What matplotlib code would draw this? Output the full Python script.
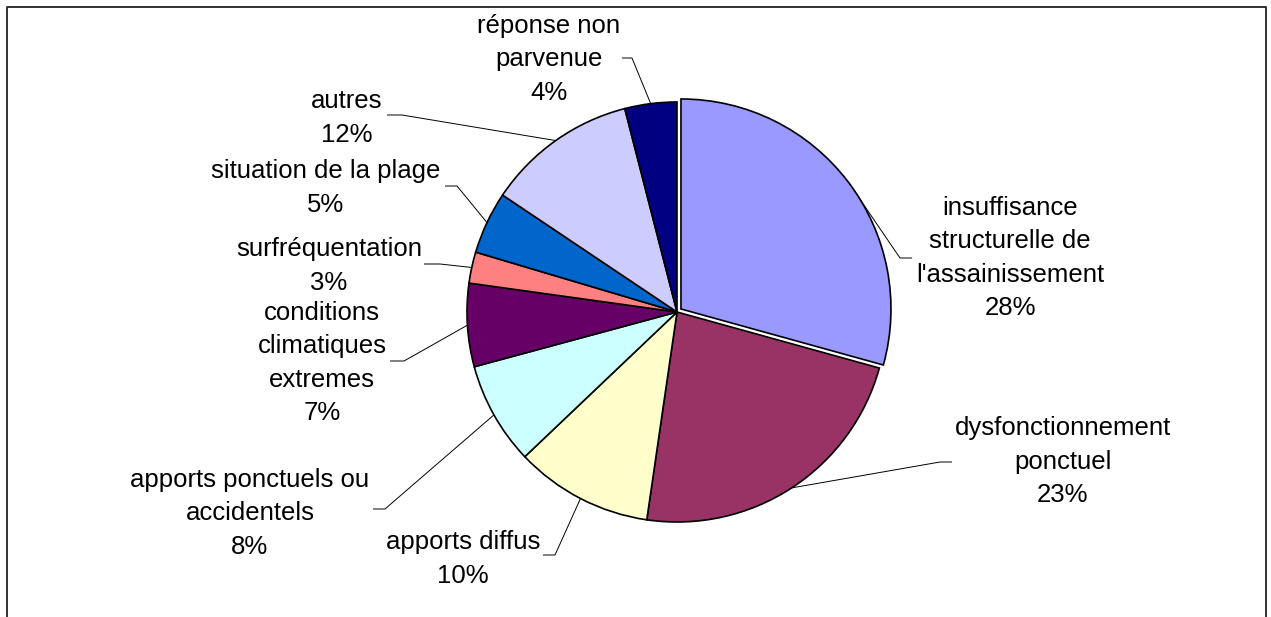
import numpy as np
import matplotlib
matplotlib.use("Agg")
import matplotlib.pyplot as plt

# shares (clockwise from 12 o'clock)
categories = ["insuffisance\nstructurelle de\nl'assainissement",
              "dysfonctionnement\nponctuel",
              "apports diffus",
              "apports ponctuels ou\naccidentels",
              "conditions\nclimatiques\nextremes",
              "surfréquentation",
              "situation de la plage",
              "autres",
              "réponse non\nparvenue"]
shares = [29.3, 23.0, 10.6, 7.9, 6.4, 2.4, 4.8, 11.6, 4.0]
pct_labels = ["28%", "23%", "10%", "8%", "7%", "3%", "5%", "12%", "4%"]
colors = ["#9999FF", "#993366", "#FFFFCC", "#CCFFFF", "#660066",
          "#FF8080", "#0066CC", "#CCCCFF", "#000080"]
# offset of the pulled-out slice, in pixels (pie explode is in data units)
explode = [5, 0, 0, 0, 0, 0, 0, 0, 0]

W, H = 1271, 617

# label layout in image pixels (x, y from top): text centre, line end, elbow
label_pos = [(1010, 258), (1063, 462), (463, 559), (250, 513), (322, 363),
             (329, 266), (326, 188), (347, 118), (549, 59)]
line_end = [(912, 258), (952, 462), (543, 555), (373, 509), (390, 361),
            (424, 264), (445, 186), (387, 115), (622, 58)]
elbow = [(900, 258), (940, 462), (555, 555), (385, 509), (404, 361),
         (440, 264), (457, 186), (402, 115), (632, 58)]


def px(p):
    return p[0], H - p[1]


plt.rcParams['font.family'] = ['Liberation Sans', 'DejaVu Sans']

fig = plt.figure(figsize=(W / 100, H / 100), dpi=100)
ax = fig.add_axes([0, 0, 1, 1])

centre = px((677, 312))
wedges, _ = ax.pie(shares, colors=colors, explode=explode, startangle=90,
                   counterclock=False, center=centre, radius=210, frame=True,
                   wedgeprops=dict(edgecolor="black", linewidth=1.2))
ax.set_xlim(0, W)
ax.set_ylim(0, H)
ax.set_aspect("equal")
ax.axis("off")

for i, w in enumerate(wedges):
    mid = np.deg2rad((w.theta1 + w.theta2) / 2)
    cx, cy = w.center
    ax_x = cx + w.r * np.cos(mid)
    ax_y = cy + w.r * np.sin(mid)
    ex, ey = px(line_end[i])
    bx, by = px(elbow[i])
    ax.plot([ex, bx, ax_x], [ey, by, ax_y], color="black", lw=0.7,
            solid_capstyle="butt", zorder=0.5)
    tx, ty = px(label_pos[i])
    ax.text(tx, ty, categories[i] + "\n" + pct_labels[i], ha="center",
            va="center", fontsize=18.5, linespacing=1.5, color="black")

# outer chart frame (open at the bottom)
ax.plot([7, 7, 1266, 1266], [0, H - 7, H - 7, 0], color="#222222", lw=1.3,
        clip_on=False)

fig.savefig("out.png", dpi=100)
